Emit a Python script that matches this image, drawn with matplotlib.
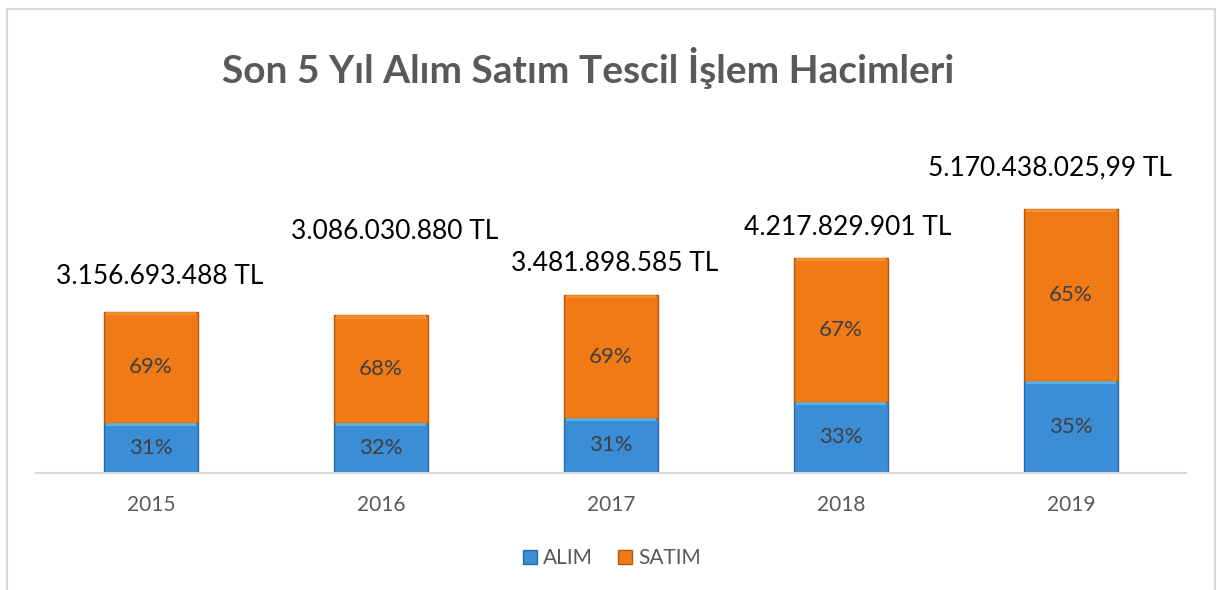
import matplotlib.pyplot as plt
from matplotlib.patches import Rectangle, Patch
import numpy as np

# veriler
years = ["2015", "2016", "2017", "2018", "2019"]
totals = [3156693488, 3086030880, 3481898585, 4217829901, 5170438025.99]
alim_pct = [31, 32, 31, 33, 35]
satim_pct = [69, 68, 69, 67, 65]
total_labels = ["3.156.693.488 TL", "3.086.030.880 TL", "3.481.898.585 TL",
                "4.217.829.901 TL", "5.170.438.025,99 TL"]

plt.rcParams['font.family'] = ['Lato', 'DejaVu Sans']

fig = plt.figure(figsize=(12.17, 5.90), dpi=100)
ax = fig.add_axes([36 / 1217, 117 / 590, (1186 - 36) / 1217, (473 - 150) / 590])

x = np.arange(len(years))
totals = np.array(totals)
alim = totals * np.array(alim_pct) / 100
satim = totals * np.array(satim_pct) / 100

blue = "#3b8dd6"
orange = "#ef7a16"
w = 0.405
ax.bar(x, alim, width=w, color=blue, edgecolor="#2a6aa6", linewidth=1.0, zorder=2)
ax.bar(x, satim, width=w, bottom=alim, color=orange, edgecolor="#b85808", linewidth=1.0, zorder=2)
# ince parlak ust kenar (bevel efekti)
bev = 0.012 * totals.max()
ax.bar(x, bev, width=w * 0.97, bottom=alim - bev, color="#6cc2f4", linewidth=0, zorder=3, alpha=0.7)
ax.bar(x, bev, width=w * 0.97, bottom=totals - bev, color="#fb9a3a", linewidth=0, zorder=3, alpha=0.7)

for i in range(len(years)):
    ax.text(x[i], alim[i] / 2, f"{alim_pct[i]}%", ha="center", va="center",
            fontsize=16, color="#404040", zorder=4)
    ax.text(x[i], alim[i] + satim[i] / 2, f"{satim_pct[i]}%", ha="center", va="center",
            fontsize=16, color="#404040", zorder=4)

# toplam etiketleri (elle kaydirilmis konumlar, piksel)
label_dx = [9, 14, 4, 7, -21]
label_dy = [35, 84, 32, 30, 41]
for i in range(len(years)):
    ax.annotate(total_labels[i], (x[i], totals[i]), xytext=(label_dx[i] * 0.72, label_dy[i] * 0.72),
                textcoords="offset points", ha="center", va="center", fontsize=19, color="#000000")

ax.set_xlim(-0.5, len(years) - 0.5)
ax.set_ylim(0, totals.max() * (473 - 150) / 264)
ax.set_xticks(x)
ax.set_xticklabels(years, fontsize=15, color="#595959")
ax.tick_params(axis="x", length=0, pad=16)
ax.set_yticks([])
for s in ["top", "right", "left"]:
    ax.spines[s].set_visible(False)
ax.spines["bottom"].set_color("#d9d9d9")
ax.spines["bottom"].set_linewidth(1.5)

fig.text(588 / 1217, 1 - 68 / 590, "Son 5 Yıl Alım Satım Tescil İşlem Hacimleri",
         ha="center", va="center", fontsize=28, fontweight="bold", color="#595959")

# legend
handles = [Patch(facecolor=blue, edgecolor="#2a6aa6", label="ALIM"),
           Patch(facecolor=orange, edgecolor="#b85808", label="SATIM")]
leg = fig.legend(handles=handles, loc="center", bbox_to_anchor=(612 / 1217, 1 - 558 / 590),
                 ncol=2, frameon=False, fontsize=15, handlelength=0.65, handleheight=0.65,
                 handletextpad=0.3, columnspacing=1.2)
for t in leg.get_texts():
    t.set_color("#595959")

# dis cerceve
fig.patches.append(Rectangle((7 / 1217, -0.05), (1215 - 7) / 1217, 1.05 - 9 / 590,
                             transform=fig.transFigure, fill=False, edgecolor="#d9d9d9", linewidth=1.5))

fig.savefig("out.png", dpi=100)
